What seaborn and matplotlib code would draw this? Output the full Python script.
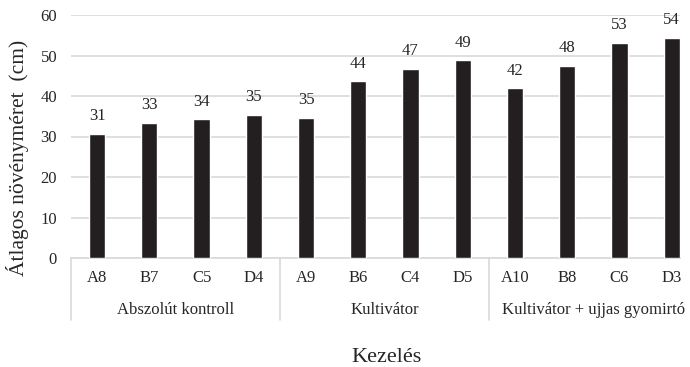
import matplotlib
matplotlib.use("Agg")
import matplotlib.pyplot as plt
import matplotlib.transforms as mtransforms
import seaborn as sns
import pandas as pd

# Plot codes, their treatment group and mean plant height (cm)
codes = ["A8", "B7", "C5", "D4", "A9", "B6", "C4", "D5", "A10", "B8", "C6", "D3"]
heights = [30.6, 33.3, 34.2, 35.3, 34.6, 43.6, 46.7, 48.8, 41.9, 47.5, 53.2, 54.3]
groups = ["Abszolút kontroll", "Kultivátor", "Kultivátor + ujjas gyomirtó"]
group_sizes = [4, 4, 4]
yticks = [0, 10, 20, 30, 40, 50, 60]

df = pd.DataFrame({"kod": codes, "magassag": heights})

sns.set_theme(style="white")
plt.rcParams["font.family"] = ["Liberation Serif", "DejaVu Serif"]

TEXT = "#262626"
GRID = "#d9d9d9"
BAR = "#231f20"

fig = plt.figure(figsize=(6.9, 3.67), dpi=100)
ax = fig.add_axes([71 / 690, 1 - 258 / 367, (680 - 71) / 690, (258 - 15) / 367])

sns.barplot(data=df, x="kod", y="magassag", color=BAR, width=0.31,
            saturation=1, ax=ax, zorder=3)

ax.set_ylim(0, 60)
ax.set_xlim(-0.5, 11.16)
ax.set_yticks(yticks)
ax.yaxis.grid(True, color=GRID, linewidth=1.2, zorder=0)
ax.set_axisbelow(True)
for side in ["left", "right", "top"]:
    ax.spines[side].set_visible(False)
ax.spines["bottom"].set_color(GRID)
ax.spines["bottom"].set_linewidth(1.2)

ax.tick_params(axis="y", length=0, pad=10, labelsize=12, labelcolor=TEXT)
ax.tick_params(axis="x", length=0, pad=9, labelsize=12, labelcolor=TEXT)
ax.set_xlabel("")
ax.set_ylabel("")

# Value labels above each bar
for container in ax.containers:
    ax.bar_label(container, labels=[f"{v:.0f}" for v in heights],
                 padding=7, fontsize=12, color=TEXT)

# Group separators and group names below the category ticks
trans = mtransforms.blended_transform_factory(ax.transData, ax.transAxes)
sep_bottom = -(320 - 258) / (258 - 15)
label_y = -(310 - 258) / (258 - 15)
start = 0
for name, size in zip(groups, group_sizes):
    left = start - 0.5
    ax.plot([left, left], [0, sep_bottom], transform=trans, color=GRID,
            linewidth=1.2, clip_on=False)
    ax.text(start + (size - 1) / 2, label_y, name, transform=trans,
            ha="center", va="center", fontsize=12, color=TEXT)
    start += size

fig.text(387 / 690, 1 - 358 / 367, "Kezelés", ha="center", va="center",
         fontsize=16, color=TEXT)
fig.text(18 / 690, 1 - 158 / 367, "Átlagos növényméret  (cm)", ha="center",
         va="center", rotation=90, fontsize=15.5, color=TEXT)

fig.savefig("out.png", dpi=100)
